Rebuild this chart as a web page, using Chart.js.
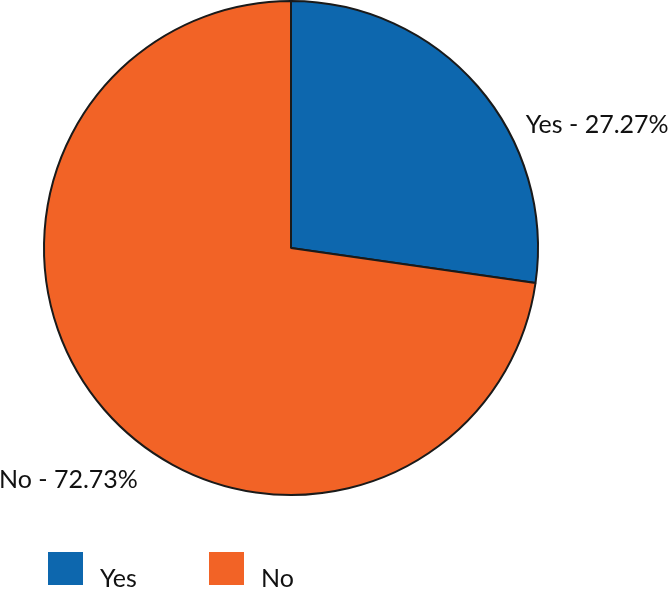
<!DOCTYPE html>
<html>
<head>
<meta charset="utf-8">
<script src="https://cdn.jsdelivr.net/npm/chart.js@4/dist/chart.umd.min.js"></script>
<style>
html,body{margin:0;padding:0;background:#fff;}
#wrap{position:relative;width:671px;height:593px;}
</style>
</head>
<body>
<div id="wrap"><canvas id="c" width="671" height="593"></canvas></div>
<script>
const categories = ["Yes", "No"];
const values = [27.27, 72.73];
const colors = ["#0d67ae", "#f26326"];
const FONT = "Lato, 'DejaVu Sans', sans-serif";

const labelPlugin = {
  id: "sliceLabels",
  afterDraw(chart) {
    const ctx = chart.ctx;
    const meta = chart.getDatasetMeta(0);
    ctx.save();
    ctx.fillStyle = "#111";
    ctx.font = "25px " + FONT;
    ctx.textBaseline = "middle";
    meta.data.forEach((arc, i) => {
      const p = arc.getProps(["x", "y", "startAngle", "endAngle", "outerRadius"], true);
      const mid = (p.startAngle + p.endAngle) / 2;
      const text = categories[i] + " - " + values[i].toFixed(2) + "%";
      if (Math.cos(mid) >= 0) {
        ctx.textAlign = "left";
        ctx.fillText(text, p.x + p.outerRadius * 0.95, p.y - p.outerRadius * 0.5);
      } else {
        ctx.textAlign = "right";
        ctx.fillText(text, p.x - p.outerRadius * 0.62, p.y + p.outerRadius * 0.94);
      }
    });
    // legend
    const legX = [48, 209];
    ctx.textAlign = "left";
    ctx.textBaseline = "alphabetic";
    ctx.font = "25px " + FONT;
    categories.forEach((c, i) => {
      ctx.fillStyle = colors[i];
      ctx.fillRect(legX[i], 552, 35, 33);
      ctx.fillStyle = "#111";
      ctx.fillText(c, legX[i] + 52, 587);
    });
    ctx.restore();
  }
};

new Chart(document.getElementById("c"), {
  type: "pie",
  data: {
    labels: categories,
    datasets: [{
      data: values,
      backgroundColor: colors,
      borderColor: "#1a1a1a",
      borderWidth: 2,
      hoverOffset: 0
    }]
  },
  options: {
    responsive: false,
    animation: false,
    events: [],
    layout: { padding: { left: 43, right: 132, top: 0, bottom: 97 } },
    plugins: { legend: { display: false }, tooltip: { enabled: false } }
  },
  plugins: [labelPlugin]
});
</script>
</body>
</html>
